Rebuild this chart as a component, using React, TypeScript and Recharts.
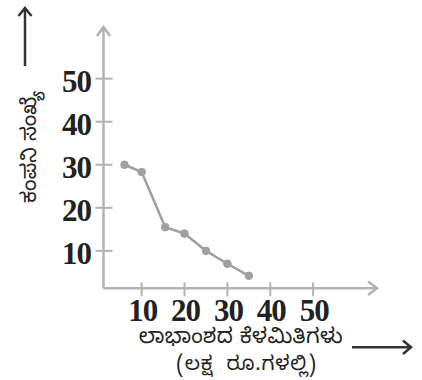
import { LineChart, Line, XAxis, YAxis } from "recharts";

// lower limits of dividend (lakh rupees) vs number of companies
const limits = [6, 10, 15.5, 20, 25, 30, 35];
const companies = [30, 28.3, 15.5, 14, 10, 7, 4.2];
const xTicks = [10, 20, 30, 40, 50];
const yTicks = [10, 20, 30, 40, 50];

const xTitle = "ಲಾಭಾಂಶದ ಕೆಳಮಿತಿಗಳು";
const xUnit = "(ಲಕ್ಷ ರೂ.ಗಳಲ್ಲಿ)";
const yTitle = "ಕಂಪನಿ ಸಂಖ್ಯೆ";

const chartData = limits.map((x, i) => ({ x, y: companies[i] }));

const axisGrey = "#b3b3b3";
const lineGrey = "#a0a0a0";
const numFont = "'Liberation Serif', 'Times New Roman', serif";
const knFont = "'Noto Sans Kannada', 'Noto Sans', sans-serif";

function YTick({ x, y, payload }: any) {
  return (
    <g>
      <line x1={x - 8} x2={x + 9} y1={y} y2={y} stroke={axisGrey} strokeWidth={2} />
      <text
        x={x - 12.5}
        y={y + 13}
        textAnchor="end"
        fontFamily={numFont}
        fontWeight="bold"
        fontSize={31}
        letterSpacing={-1}
        fill="#222"
      >
        {payload.value}
      </text>
    </g>
  );
}

function XTick({ x, y, payload }: any) {
  return (
    <g>
      <line x1={x} x2={x} y1={y - 6} y2={y + 8} stroke={axisGrey} strokeWidth={2} />
      <text
        x={x + 1}
        y={y + 33}
        textAnchor="middle"
        fontFamily={numFont}
        fontWeight="bold"
        fontSize={31}
        letterSpacing={-1}
        fill="#222"
      >
        {payload.value}
      </text>
    </g>
  );
}

export default function App() {
  return (
    <div style={{ position: "absolute", left: 0, top: 0, width: 422, height: 380, background: "#fff" }}>
      <LineChart
        width={422}
        height={380}
        data={chartData}
        margin={{ top: 27, right: 45, bottom: 61.7, left: 43.5 }}
      >
        <XAxis
          type="number"
          dataKey="x"
          domain={[1.1, 64.9]}
          ticks={xTicks}
          allowDataOverflow
          axisLine={{ stroke: axisGrey, strokeWidth: 2.5 }}
          tickLine={false}
          tickSize={0}
          tickMargin={0}
          tick={<XTick />}
          interval={0}
        />
        <YAxis
          type="number"
          domain={[1.3, 62]}
          ticks={yTicks}
          allowDataOverflow
          axisLine={{ stroke: axisGrey, strokeWidth: 2.5 }}
          tickLine={false}
          tickSize={0}
          tickMargin={0}
          tick={<YTick />}
          interval={0}
          width={60}
        />
        <Line
          dataKey="y"
          type="linear"
          stroke={lineGrey}
          strokeWidth={2.5}
          dot={{ r: 3.8, fill: lineGrey, stroke: lineGrey, strokeWidth: 1 }}
          isAnimationActive={false}
        />
      </LineChart>
      <svg
        width={422}
        height={380}
        style={{ position: "absolute", left: 0, top: 0, pointerEvents: "none" }}
      >
        {/* axis arrowheads */}
        <polyline points="97,36 103.5,27 110,36" fill="none" stroke={axisGrey} strokeWidth={2.5} />
        <polyline points="368,281.5 377,288.3 368,295" fill="none" stroke={axisGrey} strokeWidth={2.5} />
        {/* black direction arrows */}
        <line x1={25} y1={66} x2={25} y2={8} stroke="#333" strokeWidth={2.5} />
        <polyline points="18.5,16 25,8 31.5,16" fill="none" stroke="#333" strokeWidth={2.5} />
        <line x1={352} y1={347.3} x2={411} y2={347.3} stroke="#333" strokeWidth={2.5} />
        <polyline points="403,340.5 411,347.3 403,354" fill="none" stroke="#333" strokeWidth={2.5} />
        <text
          x={241}
          y={343}
          textAnchor="middle"
          fontFamily={knFont}
          fontSize={21}
          letterSpacing={0.4}
          fill="#222"
        >
          {xTitle}
        </text>
        <text
          x={246.5}
          y={370}
          textAnchor="middle"
          fontFamily={knFont}
          fontSize={20}
          wordSpacing={7}
          letterSpacing={0.8}
          fill="#222"
        >
          {xUnit}
        </text>
        <text
          x={0}
          y={0}
          transform="translate(36,147) rotate(-90)"
          textAnchor="middle"
          fontFamily={knFont}
          fontSize={21}
          fill="#222"
        >
          {yTitle}
        </text>
      </svg>
    </div>
  );
}
